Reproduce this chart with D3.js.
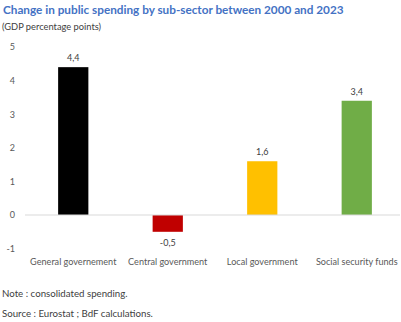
<!DOCTYPE html>
<html>
<head>
<meta charset="utf-8">
<script src="https://cdn.jsdelivr.net/npm/d3@7"></script>
<style>
  html, body { margin: 0; padding: 0; background: #fff; }
  svg { display: block; font-family: Lato, "Open Sans", sans-serif; }
</style>
</head>
<body>
<svg id="chart" width="401" height="322"></svg>
<script>
// Change in public spending by sub-sector, 2000 -> 2023 (GDP points)
const categories = ["General governement", "Central government", "Local government", "Social security funds"];
const values = [4.4, -0.5, 1.6, 3.4];
const barColors = ["#000000", "#C00000", "#FFC000", "#70AD47"];
const yTicks = [-1, 0, 1, 2, 3, 4, 5];

const svg = d3.select("#chart");

const x = d3.scaleBand()
  .domain(categories)
  .range([26, 404])
  .paddingInner(0.68)
  .paddingOuter(0.34);

const y = d3.scaleLinear()
  .domain([-1, 5])
  .range([248.6, 47]);

const fmt = v => String(v).replace(".", ",");

// Title and unit line
svg.append("text")
  .attr("x", 3).attr("y", 14)
  .attr("fill", "#4472C4")
  .attr("font-weight", "bold")
  .attr("font-size", 11.75)
  .text("Change in public spending by sub-sector between 2000 and 2023");

svg.append("text")
  .attr("x", 2).attr("y", 30)
  .attr("fill", "#404040")
  .attr("font-size", 9.3)
  .text("(GDP percentage points)");

// Y axis labels (no axis line)
const yAxis = d3.axisLeft(y).tickValues(yTicks).tickSize(0).tickPadding(0)
  .tickFormat(d => d);
const gy = svg.append("g").attr("transform", "translate(15,0)").call(yAxis);
gy.select(".domain").remove();
gy.selectAll("text")
  .attr("fill", "#595959")
  .attr("font-size", 9)
  .attr("font-family", "Lato, 'Open Sans', sans-serif");

// Bars
svg.append("g").selectAll("rect")
  .data(values)
  .join("rect")
  .attr("x", (d, i) => x(categories[i]))
  .attr("width", x.bandwidth())
  .attr("y", d => y(Math.max(0, d)))
  .attr("height", d => Math.abs(y(d) - y(0)))
  .attr("fill", (d, i) => barColors[i]);

// Zero line
svg.append("line")
  .attr("x1", 25).attr("x2", 400)
  .attr("y1", y(0)).attr("y2", y(0))
  .attr("stroke", "#D9D9D9")
  .attr("stroke-width", 1);

// Value labels
svg.append("g").selectAll("text")
  .data(values)
  .join("text")
  .attr("x", (d, i) => x(categories[i]) + x.bandwidth() / 2)
  .attr("y", d => d >= 0 ? y(d) - 6 : y(d) + 14)
  .attr("text-anchor", "middle")
  .attr("fill", "#404040")
  .attr("font-size", 9)
  .text(d => fmt(d));

// Category labels
const xAxis = d3.axisBottom(x).tickSize(0).tickPadding(0);
const gx = svg.append("g").attr("transform", "translate(0,265)").call(xAxis);
gx.select(".domain").remove();
gx.selectAll("text")
  .attr("fill", "#595959")
  .attr("font-size", 9.1)
  .attr("font-family", "Lato, 'Open Sans', sans-serif")
  .attr("dy", 0);

// Footnotes
svg.append("text")
  .attr("x", 2).attr("y", 297)
  .attr("fill", "#404040")
  .attr("font-size", 9.7)
  .text("Note : consolidated spending.");

svg.append("text")
  .attr("x", 2).attr("y", 317)
  .attr("fill", "#404040")
  .attr("font-size", 9.7)
  .text("Source : Eurostat ; BdF calculations.");
</script>
</body>
</html>
